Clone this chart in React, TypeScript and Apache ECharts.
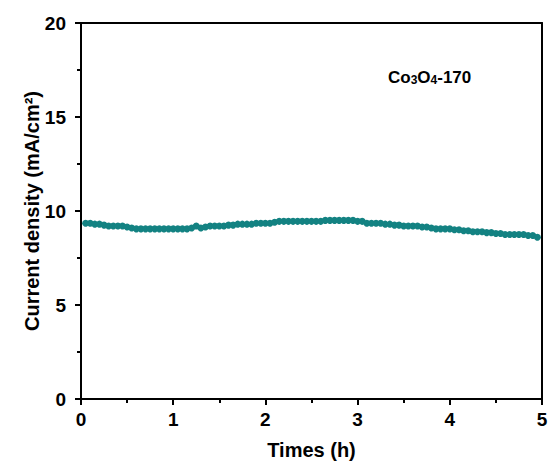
import React, { useEffect, useRef } from "react";
import * as echarts from "echarts";

const timeStep = 0.05;
const currentDensity = [
  9.35, 9.35, 9.3, 9.3, 9.25,
  9.2, 9.2, 9.2, 9.2, 9.15,
  9.1, 9.05, 9.05, 9.05, 9.05,
  9.05, 9.05, 9.05, 9.05, 9.05,
  9.05, 9.05, 9.05, 9.1, 9.2,
  9.1, 9.15, 9.2, 9.2, 9.2,
  9.2, 9.25, 9.25, 9.3, 9.3,
  9.3, 9.3, 9.35, 9.35, 9.35,
  9.35, 9.4, 9.45, 9.45, 9.45,
  9.45, 9.45, 9.45, 9.45, 9.45,
  9.45, 9.45, 9.5, 9.5, 9.5,
  9.5, 9.5, 9.5, 9.5, 9.45,
  9.45, 9.35, 9.35, 9.35, 9.35,
  9.3, 9.3, 9.25, 9.25, 9.2,
  9.2, 9.2, 9.2, 9.15, 9.15,
  9.1, 9.05, 9.05, 9.05, 9.05,
  9.0, 9.0, 8.95, 8.95, 8.9,
  8.9, 8.9, 8.85, 8.85, 8.8,
  8.8, 8.75, 8.75, 8.75, 8.75,
  8.75, 8.7, 8.7, 8.6,
];
const xTicks = [0, 1, 2, 3, 4, 5];
const yTicks = [0, 5, 10, 15, 20];

const FONT = "Arimo, 'Liberation Sans', Arial, sans-serif";
const COLOR = "#138282";

export default function App() {
  const ref = useRef<HTMLDivElement>(null);
  useEffect(() => {
    if (!ref.current) return;
    const chart = echarts.init(ref.current, null, { renderer: "svg" });
    const data = currentDensity.map((v, i) => [
      +((i + 1) * timeStep).toFixed(2),
      v,
    ]);
    const axisCommon = {
      axisLine: { show: true, onZero: false, lineStyle: { color: "#000", width: 2 } },
      splitLine: { show: false },
    };
    chart.setOption({
      animation: false,
      backgroundColor: "#fff",
      grid: { left: 81, right: 9, top: 23, bottom: 68, containLabel: false },
      xAxis: [
        {
          type: "value",
          min: xTicks[0],
          max: xTicks[xTicks.length - 1],
          interval: 1,
          ...axisCommon,
          axisTick: { show: true, inside: false, length: 6, lineStyle: { color: "#000", width: 2 } },
          minorTick: { show: true, splitNumber: 2, length: 4, lineStyle: { color: "#000", width: 2 } },
          axisLabel: { color: "#000", fontFamily: FONT, fontWeight: "bold", fontSize: 19, margin: 11 },
          name: "Times (h)",
          nameLocation: "middle",
          nameGap: 41,
          nameMoveOverlap: false,
          nameTextStyle: { color: "#000", fontFamily: FONT, fontWeight: "bold", fontSize: 20 },
        },
        {
          type: "value",
          position: "top",
          min: 0,
          max: 5,
          ...axisCommon,
          axisTick: { show: false },
          axisLabel: { show: false },
        },
      ],
      yAxis: [
        {
          type: "value",
          min: yTicks[0],
          max: yTicks[yTicks.length - 1],
          interval: 5,
          ...axisCommon,
          axisTick: { show: true, inside: false, length: 6, lineStyle: { color: "#000", width: 2 } },
          minorTick: { show: true, splitNumber: 2, length: 4, lineStyle: { color: "#000", width: 2 } },
          axisLabel: { color: "#000", fontFamily: FONT, fontWeight: "bold", fontSize: 19, margin: 15 },
          name: "Current density (mA/cm²)",
          nameLocation: "middle",
          nameGap: 39,
          nameMoveOverlap: false,
          nameTextStyle: { color: "#000", fontFamily: FONT, fontWeight: "bold", fontSize: 20 },
        },
        {
          type: "value",
          position: "right",
          min: 0,
          max: 20,
          ...axisCommon,
          axisTick: { show: false },
          axisLabel: { show: false },
        },
      ],
      series: [
        {
          type: "line",
          data,
          symbol: "circle",
          symbolSize: 7,
          itemStyle: { color: COLOR },
          lineStyle: { color: COLOR, width: 2 },
        },
      ],
      graphic: [
        {
          type: "text",
          left: 388,
          top: 69,
          style: {
            text: "{b|Co}{s|3}{b|O}{s|4}{b|-170}",
            rich: {
              b: { fontFamily: FONT, fontWeight: "bold", fontSize: 17, fill: "#000", verticalAlign: "bottom" },
              s: { fontFamily: FONT, fontWeight: "bold", fontSize: 12, fill: "#000", verticalAlign: "bottom" },
            },
          },
        },
      ],
    });
    return () => chart.dispose();
  }, []);
  return (
    <div
      ref={ref}
      style={{ position: "fixed", left: 0, top: 0, width: 551, height: 467, background: "#fff" }}
    />
  );
}
